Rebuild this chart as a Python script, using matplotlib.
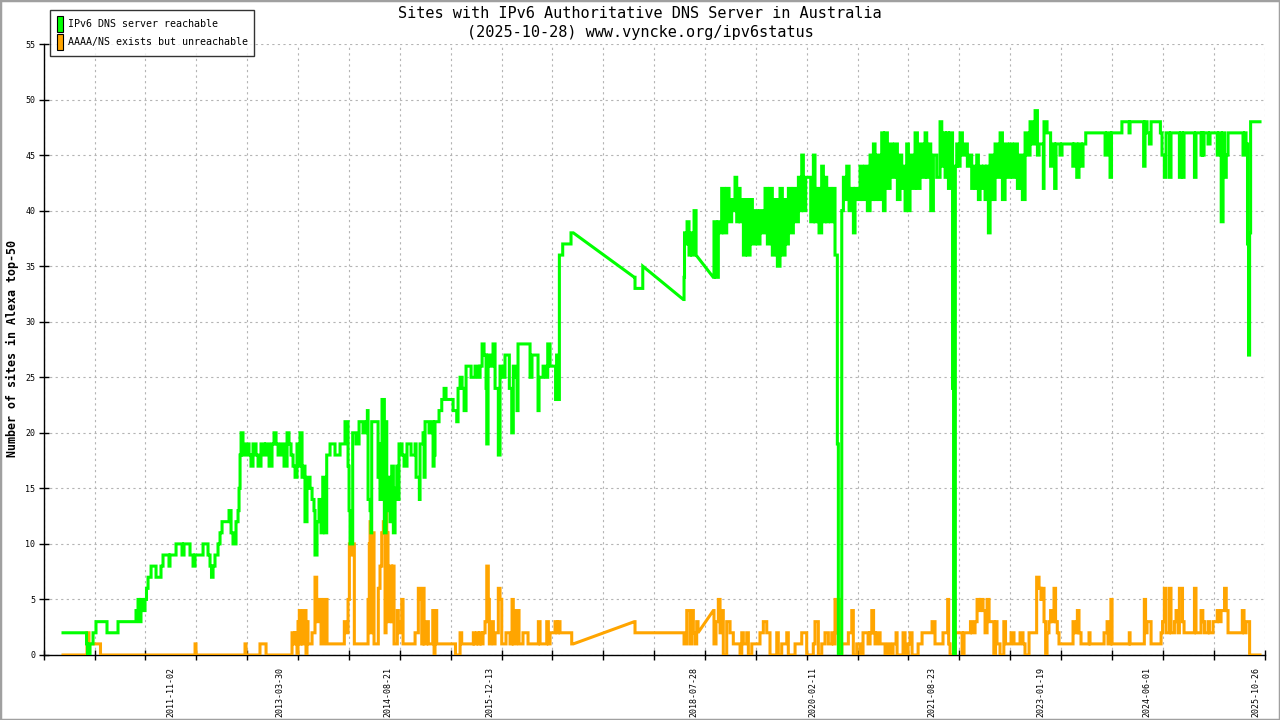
import numpy as np
import pandas as pd
import matplotlib
matplotlib.use('Agg')
import matplotlib.pyplot as plt
import matplotlib.transforms as mtransforms
from matplotlib.patches import Patch, Rectangle

plt.rcParams['font.family'] = ['DejaVu Sans Mono', 'DejaVu Sans']

title_lines = ['Sites with IPv6 Authoritative DNS Server in Australia',
               '(2025-10-28) www.vyncke.org/ipv6status']
y_label = 'Number of sites in Alexa top-50'
legend_labels = ['IPv6 DNS server reachable', 'AAAA/NS exists but unreachable']
date_labels = ['2011-11-02', '2013-03-30', '2014-08-21', '2015-12-13', '2018-07-28',
               '2020-02-11', '2021-08-23', '2023-01-19', '2024-06-01', '2025-10-26']
x_start, x_end = 2010.143, 2025.879
y_ticks = list(range(0, 56, 5))

# sites with a reachable IPv6 DNS server (x in decimal years)
green_year = [
    2010.392, 2010.676, 2010.695, 2010.708, 2010.727, 2010.740, 2010.779, 2010.817, 2010.946, 2010.959,
    2011.088, 2011.101, 2011.320, 2011.333, 2011.359, 2011.372, 2011.397, 2011.423, 2011.449, 2011.468,
    2011.488, 2011.527, 2011.578, 2011.591, 2011.642, 2011.655, 2011.681, 2011.733, 2011.758, 2011.771,
    2011.823, 2011.849, 2011.913, 2011.926, 2011.952, 2012.004, 2012.029, 2012.068, 2012.094, 2012.158,
    2012.197, 2012.248, 2012.261, 2012.287, 2012.306, 2012.326, 2012.351, 2012.390, 2012.416, 2012.442,
    2012.493, 2012.532, 2012.558, 2012.583, 2012.622, 2012.648, 2012.661, 2012.674, 2012.687, 2012.712,
    2012.751, 2012.790, 2012.815, 2012.841, 2012.880, 2012.906, 2012.944, 2012.983, 2013.009, 2013.048,
    2013.086, 2013.112, 2013.138, 2013.164, 2013.202, 2013.241, 2013.280, 2013.305, 2013.331, 2013.357,
    2013.383, 2013.408, 2013.434, 2013.447, 2013.473, 2013.499, 2013.511, 2013.537, 2013.576, 2013.602,
    2013.627, 2013.640, 2013.666, 2013.692, 2013.718, 2013.740, 2013.769, 2013.791, 2013.834, 2013.898,
    2013.963, 2014.001, 2014.027, 2014.053, 2014.066, 2014.079, 2014.092, 2014.105, 2014.126, 2014.169,
    2014.208, 2014.259, 2014.298, 2014.315, 2014.324, 2014.350, 2014.362, 2014.371, 2014.427, 2014.453,
    2014.466, 2014.478, 2014.504, 2014.523, 2014.534, 2014.556, 2014.565, 2014.581, 2014.607, 2014.629,
    2014.650, 2014.672, 2014.694, 2014.707, 2014.723, 2014.762, 2014.788, 2014.826, 2014.878, 2014.930,
    2014.943, 2014.985, 2014.994, 2015.033, 2015.046, 2015.059, 2015.110, 2015.149, 2015.162, 2015.175,
    2015.187, 2015.239, 2015.274, 2015.304, 2015.329, 2015.381, 2015.420, 2015.467, 2015.484, 2015.510,
    2015.536, 2015.562, 2015.587, 2015.613, 2015.652, 2015.703, 2015.742, 2015.768, 2015.794, 2015.819,
    2015.845, 2015.854, 2015.871, 2015.897, 2015.935, 2015.961, 2016.003, 2016.025, 2016.051, 2016.089,
    2016.128, 2016.145, 2016.176, 2016.196, 2016.218, 2016.244, 2016.257, 2016.334, 2016.386, 2016.412,
    2016.437, 2016.489, 2016.515, 2016.528, 2016.580, 2016.618, 2016.640, 2016.670, 2016.734, 2016.741,
    2016.754, 2016.773, 2016.777, 2016.790, 2016.824, 2016.833, 2016.927, 2016.940, 2016.970, 2017.756,
    2017.765, 2017.852, 2017.865, 2018.388, 2018.397, 2018.403, 2018.423, 2018.436, 2018.461, 2018.474,
    2018.500, 2018.526, 2018.552, 2018.774, 2018.783, 2018.805, 2018.839, 2018.861, 2018.882, 2018.912,
    2018.947, 2018.977, 2019.011, 2019.033, 2019.054, 2019.076, 2019.097, 2019.119, 2019.140, 2019.162,
    2019.183, 2019.213, 2019.248, 2019.278, 2019.312, 2019.342, 2019.376, 2019.407, 2019.441, 2019.471,
    2019.505, 2019.535, 2019.570, 2019.600, 2019.634, 2019.664, 2019.699, 2019.720, 2019.742, 2019.772,
    2019.806, 2019.836, 2019.871, 2019.892, 2019.914, 2019.935, 2019.965, 2019.999, 2020.030, 2020.064,
    2020.085, 2020.107, 2020.137, 2020.171, 2020.193, 2020.214, 2020.236, 2020.257, 2020.287, 2020.322,
    2020.343, 2020.356, 2020.373, 2020.386, 2020.408, 2020.430, 2020.451, 2020.472, 2020.494, 2020.524,
    2020.558, 2020.580, 2020.601, 2020.631, 2020.666, 2020.696, 2020.730, 2020.760, 2020.795, 2020.816,
    2020.838, 2020.859, 2020.881, 2020.911, 2020.945, 2020.967, 2020.988, 2021.018, 2021.053, 2021.083,
    2021.117, 2021.147, 2021.181, 2021.203, 2021.224, 2021.246, 2021.267, 2021.289, 2021.310, 2021.340,
    2021.375, 2021.405, 2021.439, 2021.469, 2021.504, 2021.525, 2021.547, 2021.577, 2021.611, 2021.654,
    2021.697, 2021.719, 2021.740, 2021.762, 2021.783, 2021.805, 2021.826, 2021.845, 2021.858, 2021.871,
    2021.884, 2021.894, 2021.912, 2021.933, 2021.955, 2021.985, 2022.019, 2022.049, 2022.084, 2022.105,
    2022.127, 2022.148, 2022.170, 2022.191, 2022.213, 2022.234, 2022.256, 2022.277, 2022.299, 2022.320,
    2022.342, 2022.372, 2022.406, 2022.436, 2022.471, 2022.501, 2022.535, 2022.565, 2022.599, 2022.630,
    2022.664, 2022.694, 2022.728, 2022.758, 2022.793, 2022.823, 2022.857, 2022.887, 2022.922, 2022.952,
    2022.973, 2023.011, 2023.028, 2023.037, 2023.076, 2023.122, 2023.140, 2023.174, 2023.192, 2023.243,
    2023.269, 2023.398, 2023.408, 2023.424, 2023.459, 2023.488, 2023.514, 2023.540, 2023.575, 2023.811,
    2023.824, 2023.850, 2023.888, 2023.907, 2024.030, 2024.041, 2024.120, 2024.133, 2024.146, 2024.308,
    2024.321, 2024.339, 2024.365, 2024.395, 2024.417, 2024.524, 2024.537, 2024.558, 2024.588, 2024.610,
    2024.636, 2024.654, 2024.674, 2024.764, 2024.782, 2024.803, 2024.822, 2024.842, 2024.971, 2024.976,
    2024.996, 2025.061, 2025.074, 2025.084, 2025.100, 2025.151, 2025.177, 2025.254, 2025.270, 2025.293,
    2025.321, 2025.345, 2025.364, 2025.386, 2025.409, 2025.580, 2025.602, 2025.628, 2025.641, 2025.660,
    2025.673, 2025.687, 2025.700, 2025.821,
]
green_sites = [
    2, 2, 1, 0, 0, 1, 2, 3, 3, 2,
    2, 3, 3, 4, 5, 3, 5, 4, 5, 6,
    7, 8, 8, 7, 7, 8, 9, 9, 8, 9,
    9, 10, 10, 9, 10, 10, 9, 8, 9, 9,
    10, 10, 9, 8, 7, 8, 9, 10, 11, 12,
    12, 13, 11, 10, 12, 13, 15, 18, 20, 18,
    19, 18, 17, 19, 18, 17, 19, 18, 19, 17,
    19, 20, 19, 18, 19, 17, 20, 19, 18, 17,
    16, 19, 17, 20, 16, 17, 12, 16, 15, 14,
    13, 9, 12, 14, 11, 16, 11, 18, 19, 18,
    19, 19, 21, 21, 17, 13, 10, 10, 20, 19,
    21, 20, 21, 22, 14, 13, 11, 21, 21, 16,
    19, 14, 23, 23, 11, 21, 13, 16, 12, 17,
    11, 15, 17, 14, 19, 18, 17, 19, 18, 19,
    16, 14, 19, 20, 16, 21, 20, 21, 17, 18,
    21, 22, 23, 24, 23, 23, 22, 21, 24, 25,
    24, 22, 26, 26, 25, 26, 25, 26, 28, 27,
    24, 19, 27, 26, 28, 24, 18, 26, 25, 27,
    27, 24, 20, 26, 25, 22, 28, 28, 28, 25,
    27, 27, 22, 25, 26, 25, 28, 26, 26, 23,
    27, 27, 23, 36, 36, 37, 37, 38, 38, 34,
    33, 33, 35, 32, 34, 38, 37, 39, 36, 38,
    36, 40, 36, 34, 39, 34, 39, 38, 42, 38,
    42, 39, 41, 40, 43, 39, 42, 39, 41, 36,
    41, 36, 41, 37, 40, 37, 40, 38, 42, 37,
    42, 36, 41, 35, 42, 36, 41, 37, 42, 38,
    42, 39, 43, 40, 45, 40, 43, 43, 39, 45,
    39, 42, 38, 44, 39, 43, 39, 42, 39, 42,
    36, 36, 19, 0, 0, 40, 43, 41, 44, 40,
    42, 38, 42, 41, 44, 41, 44, 40, 45, 41,
    46, 41, 45, 41, 47, 40, 47, 42, 46, 43,
    46, 41, 45, 42, 44, 40, 46, 40, 45, 42,
    47, 42, 46, 43, 47, 43, 46, 40, 45, 43,
    48, 44, 47, 43, 47, 42, 47, 47, 24, 0,
    0, 44, 46, 44, 47, 45, 46, 44, 45, 42,
    44, 42, 45, 41, 44, 42, 44, 41, 44, 38,
    45, 41, 46, 43, 47, 41, 46, 43, 46, 43,
    46, 42, 45, 41, 47, 45, 48, 46, 49, 45,
    46, 46, 42, 48, 47, 44, 46, 42, 46, 45,
    46, 46, 44, 46, 43, 46, 44, 46, 47, 47,
    45, 47, 43, 47, 47, 48, 48, 47, 48, 48,
    44, 48, 47, 46, 48, 48, 47, 45, 43, 47,
    47, 43, 47, 47, 43, 47, 43, 47, 47, 43,
    47, 45, 47, 45, 47, 46, 47, 47, 45, 47,
    39, 47, 43, 45, 47, 47, 45, 47, 46, 37,
    27, 38, 48, 48,
]

# sites whose AAAA/NS exists but is unreachable
orange_year = [
    2010.392, 2010.689, 2010.701, 2010.727, 2010.869, 2010.875, 2012.087, 2012.094, 2012.106, 2012.732,
    2012.738, 2012.751, 2012.925, 2012.931, 2012.996, 2013.009, 2013.340, 2013.344, 2013.370, 2013.383,
    2013.408, 2013.421, 2013.438, 2013.447, 2013.460, 2013.473, 2013.486, 2013.511, 2013.524, 2013.537,
    2013.550, 2013.576, 2013.602, 2013.640, 2013.662, 2013.679, 2013.705, 2013.718, 2013.743, 2013.756,
    2013.782, 2013.795, 2014.014, 2014.018, 2014.040, 2014.066, 2014.083, 2014.098, 2014.113, 2014.130,
    2014.147, 2014.311, 2014.324, 2014.340, 2014.350, 2014.359, 2014.371, 2014.388, 2014.401, 2014.440,
    2014.456, 2014.478, 2014.500, 2014.521, 2014.543, 2014.556, 2014.565, 2014.581, 2014.607, 2014.629,
    2014.642, 2014.659, 2014.697, 2014.701, 2014.714, 2014.736, 2014.758, 2014.775, 2014.904, 2014.930,
    2014.972, 2014.994, 2015.016, 2015.033, 2015.046, 2015.080, 2015.101, 2015.158, 2015.175, 2015.187,
    2015.209, 2015.252, 2015.445, 2015.451, 2015.497, 2015.510, 2015.531, 2015.677, 2015.681, 2015.690,
    2015.725, 2015.742, 2015.768, 2015.780, 2015.806, 2015.832, 2015.854, 2015.874, 2015.887, 2015.905,
    2015.939, 2015.961, 2016.003, 2016.025, 2016.047, 2016.102, 2016.154, 2016.180, 2016.196, 2016.235,
    2016.248, 2016.270, 2016.321, 2016.373, 2016.386, 2016.502, 2016.519, 2016.541, 2016.618, 2016.627,
    2016.648, 2016.670, 2016.734, 2016.760, 2016.777, 2016.798, 2016.927, 2016.949, 2016.970, 2017.756,
    2017.765, 2018.388, 2018.397, 2018.432, 2018.452, 2018.474, 2018.496, 2018.517, 2018.539, 2018.560,
    2018.577, 2018.774, 2018.783, 2018.809, 2018.839, 2018.861, 2018.883, 2018.903, 2018.947, 2018.990,
    2019.032, 2019.076, 2019.119, 2019.141, 2019.161, 2019.205, 2019.226, 2019.270, 2019.312, 2019.376,
    2019.419, 2019.463, 2019.505, 2019.548, 2019.592, 2019.612, 2019.656, 2019.699, 2019.721, 2019.741,
    2019.785, 2019.828, 2019.870, 2019.914, 2019.956, 2019.978, 2020.021, 2020.063, 2020.085, 2020.128,
    2020.172, 2020.214, 2020.257, 2020.301, 2020.321, 2020.343, 2020.365, 2020.386, 2020.408, 2020.430,
    2020.473, 2020.515, 2020.559, 2020.579, 2020.623, 2020.666, 2020.704, 2020.743, 2020.769, 2020.795,
    2020.817, 2020.840, 2020.859, 2020.885, 2020.924, 2020.962, 2020.988, 2021.027, 2021.053, 2021.091,
    2021.130, 2021.143, 2021.181, 2021.220, 2021.246, 2021.285, 2021.310, 2021.336, 2021.375, 2021.414,
    2021.465, 2021.543, 2021.594, 2021.632, 2021.697, 2021.735, 2021.795, 2021.808, 2021.826, 2021.877,
    2021.894, 2021.955, 2021.981, 2022.006, 2022.058, 2022.089, 2022.109, 2022.148, 2022.174, 2022.200,
    2022.218, 2022.251, 2022.277, 2022.303, 2022.329, 2022.367, 2022.390, 2022.412, 2022.431, 2022.470,
    2022.519, 2022.541, 2022.573, 2022.612, 2022.650, 2022.689, 2022.728, 2022.766, 2022.792, 2022.818,
    2022.844, 2022.942, 2022.973, 2022.998, 2023.015, 2023.037, 2023.058, 2023.076, 2023.101, 2023.122,
    2023.144, 2023.166, 2023.186, 2023.208, 2023.230, 2023.398, 2023.411, 2023.436, 2023.467, 2023.488,
    2023.514, 2023.604, 2023.617, 2023.630, 2023.798, 2023.811, 2023.850, 2023.862, 2023.899, 2023.914,
    2024.120, 2024.136, 2024.146, 2024.326, 2024.330, 2024.346, 2024.365, 2024.395, 2024.417, 2024.533,
    2024.546, 2024.565, 2024.588, 2024.610, 2024.654, 2024.674, 2024.718, 2024.739, 2024.764, 2024.782,
    2024.803, 2024.822, 2024.842, 2024.958, 2024.976, 2024.996, 2025.061, 2025.084, 2025.105, 2025.151,
    2025.169, 2025.216, 2025.254, 2025.270, 2025.293, 2025.319, 2025.364, 2025.386, 2025.409, 2025.589,
    2025.593, 2025.615, 2025.641, 2025.660, 2025.687, 2025.821,
]
orange_sites = [
    0, 0, 2, 1, 1, 0, 0, 1, 0, 0,
    1, 0, 0, 1, 1, 0, 0, 2, 1, 2,
    0, 3, 4, 1, 3, 1, 4, 4, 0, 3,
    1, 1, 2, 7, 3, 5, 5, 1, 1, 5,
    5, 1, 1, 3, 2, 5, 10, 9, 10, 10,
    1, 1, 5, 10, 12, 2, 11, 11, 1, 1,
    6, 8, 11, 12, 2, 13, 11, 3, 8, 3,
    8, 1, 1, 4, 2, 3, 5, 1, 1, 2,
    6, 5, 1, 6, 1, 3, 1, 4, 0, 4,
    1, 1, 1, 0, 0, 2, 1, 1, 2, 1,
    2, 1, 2, 1, 2, 3, 8, 5, 1, 3,
    1, 2, 6, 5, 1, 2, 1, 5, 1, 4,
    4, 1, 2, 2, 1, 1, 3, 1, 1, 3,
    1, 2, 3, 2, 3, 2, 2, 1, 1, 3,
    2, 2, 1, 4, 4, 1, 4, 2, 1, 3,
    2, 4, 1, 3, 5, 2, 4, 0, 3, 2,
    1, 1, 0, 2, 1, 2, 0, 1, 1, 2,
    3, 2, 0, 0, 2, 0, 1, 1, 2, 0,
    0, 1, 1, 2, 2, 0, 0, 1, 3, 0,
    1, 2, 1, 2, 1, 5, 2, 5, 0, 1,
    1, 2, 4, 0, 1, 0, 2, 2, 1, 2,
    4, 2, 1, 2, 1, 1, 0, 1, 0, 1,
    2, 0, 0, 2, 0, 1, 2, 0, 0, 1,
    2, 2, 3, 1, 1, 2, 5, 1, 0, 0,
    2, 2, 0, 2, 2, 3, 2, 3, 5, 4,
    5, 4, 2, 5, 3, 3, 0, 3, 1, 0,
    3, 1, 1, 2, 1, 1, 2, 1, 0, 0,
    2, 7, 6, 5, 6, 3, 0, 2, 3, 4,
    3, 6, 3, 2, 1, 1, 3, 2, 4, 2,
    1, 1, 2, 1, 1, 2, 3, 1, 5, 1,
    1, 2, 1, 1, 5, 2, 3, 3, 1, 1,
    2, 3, 6, 2, 6, 2, 3, 4, 2, 6,
    6, 3, 2, 2, 6, 2, 4, 3, 2, 3,
    2, 3, 3, 4, 3, 4, 6, 4, 2, 2,
    4, 2, 3, 3, 0, 0,
]

GREEN = '#00ff00'
ORANGE = '#ffa500'


def decimal_year(text):
    d = pd.Timestamp(text)
    start = pd.Timestamp(d.year, 1, 1)
    end = pd.Timestamp(d.year + 1, 1, 1)
    return d.year + (d - start) / (end - start)


def daily_steps(xs, ys, max_gap=0.15):
    # close samples change value at once (daily data); long gaps stay straight lines
    px, py = [xs[0]], [ys[0]]
    for i in range(1, len(xs)):
        if xs[i] - xs[i - 1] <= max_gap:
            px.append(xs[i])
            py.append(ys[i - 1])
        px.append(xs[i])
        py.append(ys[i])
    return px, py


fig = plt.figure(figsize=(12.8, 7.2), dpi=100)
ax = fig.add_axes([43.7 / 1280, 65 / 720, 1220.8 / 1280, 611 / 720])

ox, oy = daily_steps(orange_year, orange_sites)
gx, gy = daily_steps(green_year, green_sites)
ax.plot(ox, oy, color=ORANGE, linewidth=2.2, solid_joinstyle='miter', zorder=3)
ax.plot(gx, gy, color=GREEN, linewidth=2.2, solid_joinstyle='miter', zorder=4)

ax.set_xlim(x_start, x_end)
ax.set_ylim(0, 55)

for side in ['top', 'right']:
    ax.spines[side].set_visible(False)
for side in ['left', 'bottom']:
    ax.spines[side].set_linewidth(1.0)
    ax.spines[side].set_color('black')

# y axis
ax.set_yticks(y_ticks)
ax.tick_params(axis='y', direction='inout', length=7, width=1, pad=2.5, labelsize=6)
ax.grid(True, axis='y', which='major', color='#b4b4b4', linewidth=0.8, linestyle=(0, (2, 3)))

# x axis: evenly spaced tick marks, date labels at their own positions
ax.set_xticks(np.linspace(x_start, x_end, 25), minor=True)
ax.set_xticks([decimal_year(s) for s in date_labels])
ax.set_xticklabels(date_labels, rotation=90)
ax.tick_params(axis='x', which='major', length=0, pad=8.5, labelsize=6)
ax.tick_params(axis='x', which='minor', direction='inout', length=7, width=1)
ax.grid(True, axis='x', which='minor', color='#b4b4b4', linewidth=0.8, linestyle=(0, (2, 3)))
ax.grid(False, axis='x', which='major')
shift = mtransforms.ScaledTranslation(-4 / 100, 0, fig.dpi_scale_trans)
for lbl in ax.get_xticklabels():
    lbl.set_transform(lbl.get_transform() + shift)

# titles and axis label
fig.text(0.5, 1 - 13 / 720, title_lines[0], fontsize=11, ha='center', va='center')
fig.text(0.5, 1 - 32 / 720, title_lines[1], fontsize=11, ha='center', va='center')
fig.text(12 / 1280, 1 - 348 / 720, y_label, rotation=90, fontsize=8.4,
         fontweight='bold', ha='center', va='center')

# legend
handles = [Patch(facecolor=GREEN, edgecolor='black', linewidth=0.8),
           Patch(facecolor=ORANGE, edgecolor='black', linewidth=0.8)]
leg = fig.legend(handles, legend_labels, loc='upper left',
                 bbox_to_anchor=(50 / 1280, 1 - 10 / 720), bbox_transform=fig.transFigure,
                 frameon=True, fancybox=False, fontsize=7.2, handlelength=0.6,
                 handleheight=2.0, handletextpad=0.5, labelspacing=0.25,
                 borderpad=0.65, borderaxespad=0)
leg.get_frame().set_edgecolor('black')
leg.get_frame().set_linewidth(1.0)

# grey border around the picture
fig.patches.append(Rectangle((0, 0), 1, 1, transform=fig.transFigure, fill=False,
                             edgecolor='#a0a0a0', linewidth=2.5))

fig.savefig('out.png', dpi=100)
